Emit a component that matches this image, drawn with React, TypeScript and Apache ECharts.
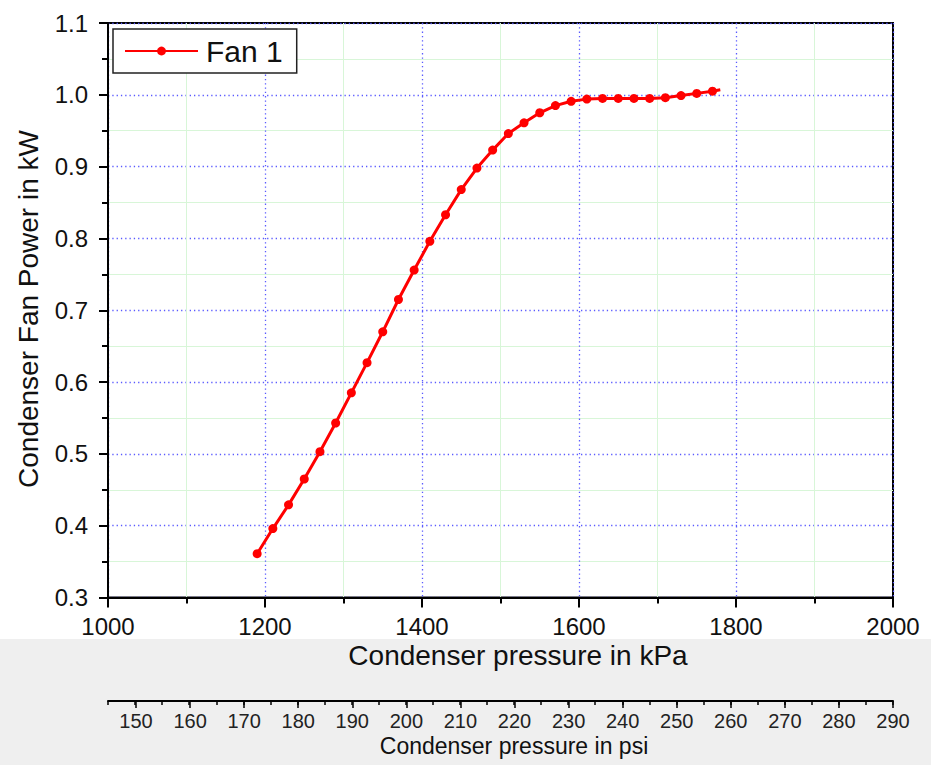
import React, { useEffect, useRef } from "react";
import * as echarts from "echarts";

const seriesName = "Fan 1";
const pressureKPa = [
  1190, 1210, 1230, 1250, 1270, 1290, 1310, 1330, 1350, 1370,
  1390, 1410, 1430, 1450, 1470, 1490, 1510, 1530, 1550, 1570,
  1590, 1610, 1630, 1650, 1670, 1690, 1710, 1730, 1750, 1770, 1780,
];
const fanPowerKW = [
  0.361, 0.396, 0.429, 0.465, 0.503, 0.543, 0.585, 0.627, 0.67, 0.715,
  0.756, 0.796, 0.833, 0.868, 0.898, 0.923, 0.946, 0.961, 0.975, 0.985,
  0.991, 0.994, 0.995, 0.995, 0.995, 0.995, 0.996, 0.999, 1.002, 1.005, 1.007,
];
// last point is the line end without a marker
const markerlessIndex = [30];

const kPaMin = 1000, kPaMax = 2000, kPaStep = 200;
const kwMin = 0.3, kwMax = 1.1, kwStep = 0.1;
const psiLineMin = 145, psiMin = 150, psiMax = 290, psiStep = 10, psiMinorStep = 5;

const xTitle = "Condenser pressure in kPa";
const yTitle = "Condenser Fan Power in kW";
const psiTitle = "Condenser pressure in psi";

const FONT = "'Liberation Sans', Arial, sans-serif";

export default function App() {
  const ref = useRef<HTMLDivElement>(null);
  useEffect(() => {
    if (!ref.current) return;
    const chart = echarts.init(ref.current, null, { renderer: "svg" });
    const data = pressureKPa.map((p, i) =>
      markerlessIndex.includes(i)
        ? { value: [p, fanPowerKW[i]], symbol: "none" }
        : { value: [p, fanPowerKW[i]] }
    );
    const gridL = 108;
    const gridR = 38;
    const psiLeft = 136;
    chart.setOption({
      animation: false,
      backgroundColor: "#ffffff",
      textStyle: { fontFamily: FONT },
      grid: [
        {
          left: gridL, right: gridR, top: 23, bottom: 167.5,
          show: true, borderColor: "#000", borderWidth: 2, backgroundColor: "transparent",
        },
        { left: gridL, right: gridR, top: 700, height: 1 },
        { left: psiLeft, right: gridR, top: 700, height: 1 },
      ],
      legend: {
        show: true,
        left: 113,
        top: 29,
        orient: "vertical",
        data: [seriesName],
        backgroundColor: "#fff",
        borderColor: "#222",
        borderWidth: 1.5,
        padding: [7, 14, 7, 11],
        itemWidth: 73,
        itemHeight: 11,
        textStyle: { fontSize: 30, color: "#111", fontFamily: FONT, padding: [0, 0, 0, 3] },
      },
      xAxis: [
        {
          gridIndex: 0,
          type: "value",
          min: kPaMin, max: kPaMax, interval: kPaStep,
          axisLine: { show: true, onZero: false, lineStyle: { color: "#000", width: 2 } },
          axisTick: { show: true, length: 10, lineStyle: { color: "#000", width: 2 } },
          minorTick: { show: true, splitNumber: 2, length: 6, lineStyle: { color: "#000", width: 2 } },
          axisLabel: {
            fontSize: 24, color: "#111", margin: 17, fontFamily: FONT,
            formatter: (v: number) => String(v),
          },
          splitLine: { show: true, lineStyle: { color: "#5a5aff", width: 1.3, type: [1.3, 3] } },
          minorSplitLine: { show: true, lineStyle: { color: "#d8f6d8", width: 1 } },
        },
        {
          gridIndex: 1,
          type: "value",
          position: "bottom",
          min: psiLineMin, max: psiMax, interval: psiMinorStep,
          axisLine: { show: true, onZero: false, lineStyle: { color: "#000", width: 2 } },
          axisTick: { show: true, length: 4, lineStyle: { color: "#000", width: 1.5 } },
          axisLabel: { show: false },
          splitLine: { show: false },
        },
        {
          gridIndex: 2,
          type: "value",
          position: "bottom",
          min: psiMin, max: psiMax, interval: psiStep,
          axisLine: { show: false, onZero: false },
          axisTick: { show: true, length: 7, lineStyle: { color: "#000", width: 1.5 } },
          axisLabel: {
            fontSize: 20, color: "#222", margin: 10, fontFamily: FONT,
            formatter: (v: number) => String(v),
          },
          splitLine: { show: false },
        },
      ],
      yAxis: [
        {
          gridIndex: 0,
          type: "value",
          min: kwMin, max: kwMax, interval: kwStep,
          axisLine: { show: true, onZero: false, lineStyle: { color: "#000", width: 2 } },
          axisTick: { show: true, length: 9, lineStyle: { color: "#000", width: 2 } },
          minorTick: { show: true, splitNumber: 2, length: 6, lineStyle: { color: "#000", width: 2 } },
          axisLabel: {
            fontSize: 24, color: "#111", margin: 20, fontFamily: FONT,
            formatter: (v: number) => v.toFixed(1),
          },
          splitLine: { show: true, lineStyle: { color: "#5a5aff", width: 1.3, type: [1.3, 3] } },
          minorSplitLine: { show: true, lineStyle: { color: "#d8f6d8", width: 1 } },
        },
        { gridIndex: 1, type: "value", show: false, min: 0, max: 1 },
        { gridIndex: 2, type: "value", show: false, min: 0, max: 1 },
      ],
      graphic: [
        {
          type: "rect",
          z: -10,
          silent: true,
          shape: { x: 0, y: 639, width: 931, height: 126 },
          style: { fill: "#efefef" },
        },
        {
          type: "text",
          z: 100,
          x: 518, y: 655,
          style: {
            text: xTitle, fontSize: 28, fontFamily: FONT, fill: "#111",
            textAlign: "center", textVerticalAlign: "middle",
          },
        },
        {
          type: "text",
          z: 100,
          x: 514, y: 746,
          style: {
            text: psiTitle, fontSize: 23, fontFamily: FONT, fill: "#111",
            textAlign: "center", textVerticalAlign: "middle",
          },
        },
        {
          type: "text",
          z: 100,
          x: 28, y: 309,
          rotation: Math.PI / 2,
          style: {
            text: yTitle, fontSize: 28, fontFamily: FONT, fill: "#111",
            textAlign: "center", textVerticalAlign: "middle",
          },
        },
      ],
      series: [
        {
          name: seriesName,
          type: "line",
          xAxisIndex: 0,
          yAxisIndex: 0,
          data,
          symbol: "circle",
          symbolSize: 9,
          showAllSymbol: true,
          lineStyle: { color: "#ff0000", width: 3 },
          itemStyle: { color: "#ff0000" },
          z: 5,
        },
      ],
    });
    return () => chart.dispose();
  }, []);
  return (
    <div
      ref={ref}
      style={{ position: "absolute", left: 0, top: 0, width: 931, height: 765 }}
    />
  );
}
